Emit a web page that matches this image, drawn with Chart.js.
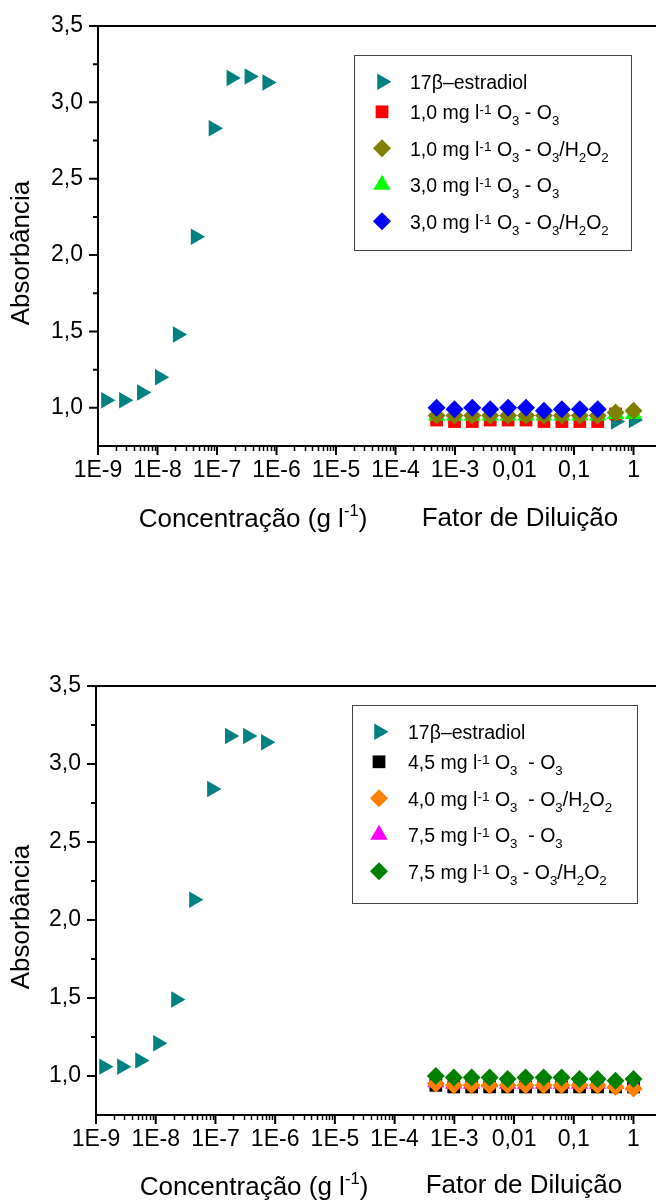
<!DOCTYPE html>
<html>
<head>
<meta charset="utf-8">
<script src="https://cdn.jsdelivr.net/npm/chart.js@4/dist/chart.umd.min.js"></script>
<style>
  html, body { margin: 0; padding: 0; background: #fff; }
  .panel { position: relative; width: 656px; }
</style>
</head>
<body>
<div class="panel" style="height:600px"><canvas id="chartTop"></canvas></div>
<div class="panel" style="height:602px"><canvas id="chartBottom"></canvas></div>
<script>
// x values: estradiol concentration (g/l) and dilution factor
const concentracao = [1.36e-9, 2.72e-9, 5.45e-9, 1.09e-8, 2.18e-8, 4.36e-8, 8.72e-8, 1.74e-7, 3.49e-7, 6.97e-7];
const fatorDiluicao = [0.00049, 0.00098, 0.00195, 0.0039, 0.0078, 0.0156, 0.03125, 0.0625, 0.125, 0.25, 0.5, 1];

// tick labels
const xTickValues = [1e-9, 1e-8, 1e-7, 1e-6, 1e-5, 1e-4, 1e-3, 0.01, 0.1, 1];
const xTickLabels = ['1E-9', '1E-8', '1E-7', '1E-6', '1E-5', '1E-4', '1E-3', '0,01', '0,1', '1'];
const yTickValues = [1.0, 1.5, 2.0, 2.5, 3.0, 3.5];

// top panel - absorbance
const absEstradiolTop = [1.05, 1.05, 1.10, 1.20, 1.48, 2.12, 2.83, 3.16, 3.17, 3.13];
const absEstradiolTopDil = [0.91, 0.92];   // at dilution 0.5 and 1
const absO3_10 = [0.92, 0.91, 0.91, 0.92, 0.92, 0.92, 0.91, 0.91, 0.91, 0.91, 0.96];
const absO3H2O2_10 = [0.95, 0.95, 0.95, 0.95, 0.95, 0.95, 0.95, 0.95, 0.95, 0.95, 0.97, 0.98];
const absO3_30 = [0.95, 0.95, 0.95, 0.95, 0.95, 0.95, 0.95, 0.95, 0.95, 0.95, 0.96, 0.96];
const absO3H2O2_30 = [1.00, 0.99, 1.00, 0.99, 1.00, 1.00, 0.98, 0.99, 0.99, 0.99];

// bottom panel - absorbance
const absEstradiolBot = [1.06, 1.06, 1.10, 1.21, 1.49, 2.13, 2.84, 3.18, 3.18, 3.14];
const absO3_45 = [0.94, 0.93, 0.93, 0.93, 0.93, 0.93, 0.93, 0.93, 0.93, 0.93, 0.93, 0.93];
const absO3H2O2_40 = [0.95, 0.94, 0.94, 0.94, 0.94, 0.94, 0.94, 0.94, 0.94, 0.94, 0.93, 0.92];
const absO3_75 = [0.96, 0.95, 0.95, 0.96, 0.95, 0.95, 0.95, 0.95, 0.95, 0.95, 0.95, 0.94];
const absO3H2O2_75 = [1.00, 0.99, 0.99, 0.99, 0.98, 0.99, 0.99, 0.99, 0.98, 0.98, 0.97, 0.98];

const FONT = '"Liberation Sans", Arial, sans-serif';

// text with _{sub} and ^{sup}
function parseRich(str) {
  const segs = [];
  const re = /([_^])\{([^}]*)\}|([^_^]+)/g;
  let m;
  while ((m = re.exec(str))) {
    if (m[3]) segs.push({ t: m[3], mode: 'n' });
    else segs.push({ t: m[2], mode: m[1] === '^' ? 'sup' : 'sub' });
  }
  return segs;
}

function drawRich(ctx, str, x, y, size, align, sup) {
  const segs = parseRich(str);
  const fontOf = s => (s.mode === 'n' ? size : size * (s.mode === 'sup' ? sup.size : 0.68)) + 'px ' + FONT;
  let w = 0;
  segs.forEach(s => { ctx.font = fontOf(s); s.w = ctx.measureText(s.t).width; w += s.w; });
  let cx = align === 'center' ? x - w / 2 : x;
  ctx.textAlign = 'left';
  ctx.textBaseline = 'alphabetic';
  segs.forEach(s => {
    ctx.font = fontOf(s);
    const dy = s.mode === 'sup' ? -size * sup.rise : s.mode === 'sub' ? size * 0.3 : 0;
    ctx.fillText(s.t, cx, y + dy);
    cx += s.w;
  });
}

function fallbackPoint(ctx, o, x, y) {
  const r = o.radius, rad = (o.rotation || 0) * Math.PI / 180;
  ctx.beginPath();
  if (o.pointStyle === 'rect') {
    const s = Math.SQRT1_2 * r;
    ctx.rect(x - s, y - s, 2 * s, 2 * s);
  } else if (o.pointStyle === 'rectRot') {
    ctx.moveTo(x - r, y); ctx.lineTo(x, y - r); ctx.lineTo(x + r, y); ctx.lineTo(x, y + r);
  } else {
    let a = rad;
    ctx.moveTo(x + Math.sin(a) * r, y - Math.cos(a) * r);
    a += 2 * Math.PI / 3; ctx.lineTo(x + Math.sin(a) * r, y - Math.cos(a) * r);
    a += 2 * Math.PI / 3; ctx.lineTo(x + Math.sin(a) * r, y - Math.cos(a) * r);
  }
  ctx.closePath();
  ctx.fill();
}
const drawMarker = (Chart.helpers && Chart.helpers.drawPoint) ? Chart.helpers.drawPoint : fallbackPoint;

// axes, ticks, titles and legend
function makeDecor(cfg, series) {
  return {
    id: 'decor',
    afterDraw(chart) {
      const { ctx, chartArea: a } = chart;
      const xs = chart.scales.x, ys = chart.scales.y;
      ctx.save();
      ctx.strokeStyle = '#000';
      ctx.fillStyle = '#000';
      ctx.lineWidth = 2;
      ctx.beginPath();
      ctx.moveTo(a.left, a.top - 1); ctx.lineTo(a.left, a.bottom + 1);
      ctx.moveTo(a.left - 1, a.bottom); ctx.lineTo(chart.width, a.bottom);
      ctx.moveTo(a.left - 9, a.top); ctx.lineTo(chart.width, a.top);
      ctx.stroke();

      // y ticks
      ctx.beginPath();
      yTickValues.forEach(v => { const p = ys.getPixelForValue(v); ctx.moveTo(a.left - 9, p); ctx.lineTo(a.left, p); });
      for (let v = 1.25; v < ys.max; v += 0.5) { const p = ys.getPixelForValue(v); ctx.moveTo(a.left - 5, p); ctx.lineTo(a.left, p); }
      ctx.stroke();
      // x ticks
      ctx.beginPath();
      xTickValues.forEach(v => { const p = xs.getPixelForValue(v); ctx.moveTo(p, a.bottom); ctx.lineTo(p, a.bottom + 9); });
      ctx.stroke();
      ctx.lineWidth = 1.5;
      ctx.beginPath();
      for (let n = -9; n <= 0; n++) {
        for (let k = 2; k <= 9; k++) {
          const v = k * Math.pow(10, n);
          if (v >= xs.max) continue;
          const p = Math.round(xs.getPixelForValue(v)) + 0.5;
          ctx.moveTo(p, a.bottom); ctx.lineTo(p, a.bottom + 5);
        }
      }
      ctx.stroke();

      // axis titles
      ctx.save();
      ctx.translate(cfg.yTitle.x, cfg.yTitle.y);
      ctx.rotate(-Math.PI / 2);
      ctx.font = '26px ' + FONT;
      ctx.textAlign = 'center';
      ctx.textBaseline = 'middle';
      ctx.fillText('Absorbância', 0, 0);
      ctx.restore();
      const titleSup = { size: 0.64, rise: 0.42 };
      drawRich(ctx, 'Concentração (g l^{-1})', cfg.xTitle1.x, cfg.xTitle1.y, 26, 'center', titleSup);
      drawRich(ctx, 'Fator de Diluição', cfg.xTitle2.x, cfg.xTitle2.y, 26, 'center', titleSup);

      // legend
      const b = cfg.legend;
      ctx.lineWidth = 1;
      ctx.strokeStyle = '#444';
      ctx.strokeRect(b.x + 0.5, b.y + 0.5, b.w, b.h);
      const legSup = { size: 0.7, rise: 0.25 };
      series.forEach((s, i) => {
        const base = b.y + 34.3 + (i > 0 ? 30 + (i - 1) * 36.5 : 0);
        ctx.fillStyle = s.color;
        drawMarker(ctx, { pointStyle: s.style, rotation: s.rot, radius: s.r, borderWidth: 0 }, b.x + b.mx, base - 7.5);
        ctx.fillStyle = '#000';
        drawRich(ctx, s.label, b.x + 56, base, 19.5, 'left', legSup);
      });
      ctx.restore();
    }
  };
}

function buildChart(id, series, cfg) {
  const datasets = series.map(s => ({
    label: s.label,
    data: s.x.map((x, i) => ({ x: x, y: s.y[i] })),
    pointStyle: s.style,
    rotation: s.rot,
    pointRadius: s.r,
    pointBorderWidth: 0,
    backgroundColor: s.color,
    borderColor: s.color,
    showLine: false,
    order: s.order
  }));
  return new Chart(document.getElementById(id), {
    type: 'scatter',
    data: { datasets: datasets },
    options: {
      responsive: true,
      maintainAspectRatio: false,
      animation: false,
      events: [],
      layout: { padding: { top: cfg.top, left: 0, right: 0, bottom: 0 } },
      plugins: { legend: { display: false }, tooltip: { enabled: false } },
      scales: {
        x: {
          type: 'logarithmic',
          min: 1e-9,
          max: 1.62,
          grid: { display: false, drawTicks: false },
          border: { display: false },
          ticks: {
            autoSkip: false, maxRotation: 0, minRotation: 0,
            padding: 11, color: '#000',
            font: { family: FONT, size: 23 },
            callback: (v, i) => xTickLabels[i]
          },
          afterBuildTicks: s => { s.ticks = xTickValues.map(v => ({ value: v })); },
          afterFit: s => { s.height = cfg.xAxisHeight; s.paddingLeft = 0; s.paddingRight = 0; }
        },
        y: {
          type: 'linear',
          min: 0.75,
          max: 3.5,
          grid: { display: false, drawTicks: false },
          border: { display: false },
          ticks: {
            padding: 15, color: '#000',
            font: { family: FONT, size: 23 },
            callback: v => v.toFixed(1).replace('.', ',')
          },
          afterBuildTicks: s => { s.ticks = yTickValues.map(v => ({ value: v })); },
          afterFit: s => { s.width = cfg.yAxisWidth; s.paddingTop = 0; s.paddingBottom = 0; }
        }
      }
    },
    plugins: [makeDecor(cfg, series)]
  });
}

const seriesTop = [
  { label: '17β–estradiol', x: concentracao.concat(fatorDiluicao.slice(10)), y: absEstradiolTop.concat(absEstradiolTopDil),
    color: '#008080', style: 'triangle', rot: 90, r: 9.5, order: 4 },
  { label: '1,0 mg l^{-1} O_{3} - O_{3}', x: fatorDiluicao, y: absO3_10, color: '#ff0000', style: 'rect', rot: 0, r: 9, order: 3 },
  { label: '1,0 mg l^{-1} O_{3} - O_{3}/H_{2}O_{2}', x: fatorDiluicao, y: absO3H2O2_10, color: '#808000', style: 'rectRot', rot: 0, r: 9, order: 1 },
  { label: '3,0 mg l^{-1} O_{3} - O_{3}', x: fatorDiluicao, y: absO3_30, color: '#00ff00', style: 'triangle', rot: 0, r: 10, order: 2 },
  { label: '3,0 mg l^{-1} O_{3} - O_{3}/H_{2}O_{2}', x: fatorDiluicao, y: absO3H2O2_30, color: '#0000ff', style: 'rectRot', rot: 0, r: 9, order: 0 }
];

const seriesBottom = [
  { label: '17β–estradiol', x: concentracao, y: absEstradiolBot, color: '#008080', style: 'triangle', rot: 90, r: 9.5, order: 4 },
  { label: '4,5 mg l^{-1} O_{3}  - O_{3}', x: fatorDiluicao, y: absO3_45, color: '#000000', style: 'rect', rot: 0, r: 9, order: 3 },
  { label: '4,0 mg l^{-1} O_{3}  - O_{3}/H_{2}O_{2}', x: fatorDiluicao, y: absO3H2O2_40, color: '#ff8000', style: 'rectRot', rot: 0, r: 9, order: 1 },
  { label: '7,5 mg l^{-1} O_{3}  - O_{3}', x: fatorDiluicao, y: absO3_75, color: '#ff00ff', style: 'triangle', rot: 0, r: 10, order: 2 },
  { label: '7,5 mg l^{-1} O_{3} - O_{3}/H_{2}O_{2}', x: fatorDiluicao, y: absO3H2O2_75, color: '#008000', style: 'rectRot', rot: 0, r: 9, order: 0 }
];

buildChart('chartTop', seriesTop, {
  top: 26, yAxisWidth: 98, xAxisHeight: 154,
  yTitle: { x: 22, y: 253 },
  xTitle1: { x: 253, y: 527 }, xTitle2: { x: 520, y: 526 },
  legend: { x: 354, y: 55, w: 277, h: 195, mx: 28 }
});

buildChart('chartBottom', seriesBottom, {
  top: 86, yAxisWidth: 96, xAxisHeight: 87,
  yTitle: { x: 22, y: 317 },
  xTitle1: { x: 254, y: 595 }, xTitle2: { x: 524, y: 593 },
  legend: { x: 352, y: 105, w: 285, h: 198, mx: 27 }
});
</script>
</body>
</html>
